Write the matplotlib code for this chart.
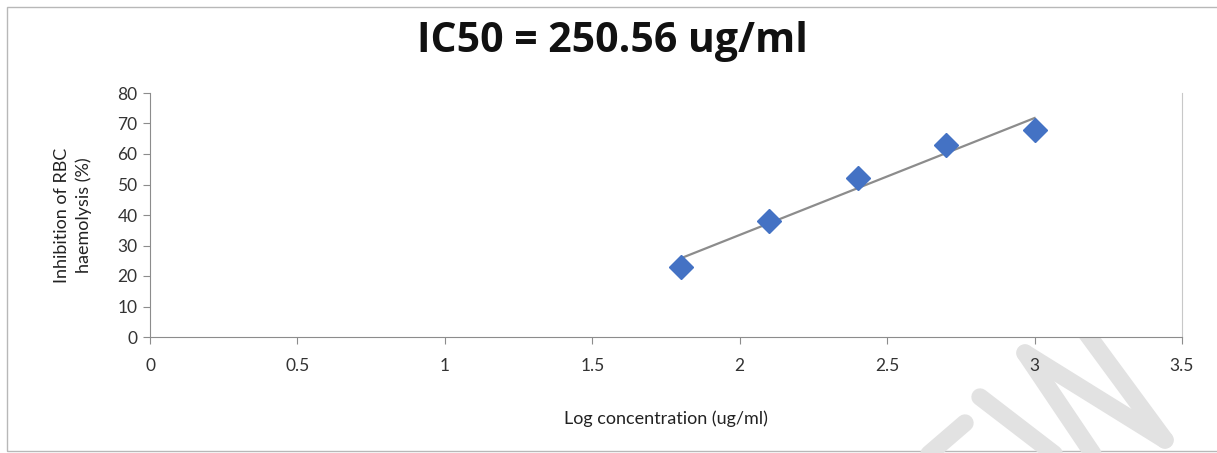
import numpy as np
import matplotlib.pyplot as plt
from matplotlib.lines import Line2D
from matplotlib.patches import Rectangle

# data
log_conc = [1.8, 2.1, 2.4, 2.7, 3.0]
inhibition = [23, 38, 52, 63, 68]
x_ticks = [0, 0.5, 1, 1.5, 2, 2.5, 3, 3.5]
y_ticks = [0, 10, 20, 30, 40, 50, 60, 70, 80]

W, H = 1217, 453
plt.rcParams['font.family'] = ['Lato', 'DejaVu Sans']

fig = plt.figure(figsize=(W / 100, H / 100), dpi=100)
fig.patch.set_facecolor('white')


def fx(px):
    return px / W


def fy(py):
    return 1 - py / H


# outer chart border (right side cut off in the reference)
fig.add_artist(Rectangle((fx(7), fy(451)), fx(1300) - fx(7), fy(7) - fy(451),
                         transform=fig.transFigure, fill=False,
                         edgecolor='#b8b8b8', linewidth=1.0, zorder=0))

# watermark strokes behind the plot
strokes = [((965, 423), (922, 460)),
           ((980, 397), (1062, 460)),
           ((1025, 353), (1097, 460)),
           ((1025, 353), (1165, 440)),
           ((1040, 270), (1165, 440))]
for (x0, y0), (x1, y1) in strokes:
    fig.add_artist(Line2D([fx(x0), fx(x1)], [fy(y0), fy(y1)],
                          transform=fig.transFigure, color='#e2e2e2',
                          linewidth=12.5, solid_capstyle='round', zorder=0.5))

ax = fig.add_axes([fx(150), fy(337), fx(1182) - fx(150), fy(93) - fy(337)])
ax.set_facecolor('white')
ax.set_zorder(1)

# linear trendline
slope, icpt = np.polyfit(log_conc, inhibition, 1)
xs = np.array([min(log_conc), max(log_conc)])
ax.plot(xs, slope * xs + icpt, color='#8c8c8c', linewidth=1.6, zorder=2)
ax.plot(log_conc, inhibition, linestyle='none', marker='D', markersize=12,
        color='#4472c4', zorder=3)

ax.set_xlim(0, 3.5)
ax.set_ylim(0, 80)
ax.set_xticks(x_ticks)
ax.set_xticklabels([f'{t:g}' for t in x_ticks])
ax.set_yticks(y_ticks)

ax.spines['top'].set_visible(False)
ax.spines['left'].set_color('#8c8c8c')
ax.spines['bottom'].set_color('#8c8c8c')
ax.spines['right'].set_color('#c8c8c8')
ax.tick_params(axis='both', colors='#8c8c8c', labelcolor='#333333',
               labelsize=12.5, length=5, direction='out')
ax.tick_params(axis='x', pad=10)
ax.tick_params(axis='y', pad=4)

ax.set_xlabel('Log concentration (ug/ml)', fontsize=13, labelpad=26,
              color='#222222')
ax.set_ylabel('Inhibition of RBC\nhaemolysis (%)', fontsize=13, labelpad=18,
              color='#222222', linespacing=1.45)

fig.text(fx(612), fy(42), 'IC50 = 250.56 ug/ml', ha='center', va='center',
         fontsize=29.5, fontweight='bold', color='#111111',
         family=['Open Sans', 'DejaVu Sans'])

fig.savefig('out.png', dpi=100)
